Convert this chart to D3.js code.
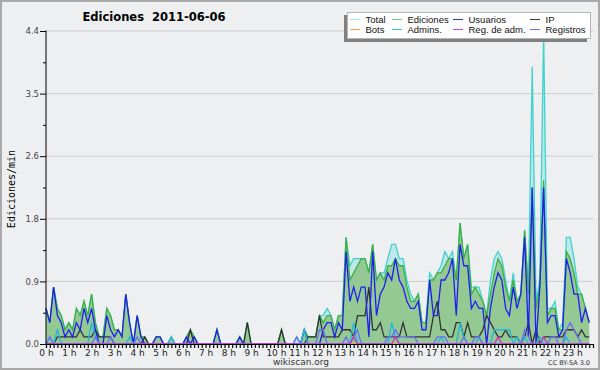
<!DOCTYPE html>
<html lang="es">
<head>
<meta charset="UTF-8">
<title>Ediciones 2011-06-06</title>
<script src="https://d3js.org/d3.v7.min.js"></script>
<style>
  body { margin: 0; background: #fff; }
  svg { display: block; }
</style>
</head>
<body>
<script>
// ediciones/min, one value per 10 minutes (12 values = 2 hours per row)
let total = [
  0.5,0.3,0.8,0.5,0.4,0.2,0.3,0.2,0.5,0.4,0.6,0.4,
  0.7,0.3,0.1,0.1,0.5,0.4,0.2,0.2,0.1,0.7,0.3,0,
  0.4,0.1,0.1,0,0,0.1,0.1,0,0,0.1,0,0,
  0,0.1,0.2,0.1,0,0,0,0,0,0.2,0,0,
  0,0,0,0.1,0,0.3,0,0,0,0,0,0,
  0,0,0.2,0,0,0,0.1,0,0.2,0.1,0.1,0.1,
  0.4,0.4,0.5,0.4,0.2,0.4,0.4,1.5,1.1,1.2,1.2,1.2,
  1.2,1.0,1.4,0.9,1.0,1.0,1.2,1.4,1.4,1.2,1.2,0.9,
  0.7,0.6,0.7,0.3,0.3,1.0,0.9,1.0,1.1,1.3,1.2,1.3,
  0.9,1.7,1.2,1.4,0.8,0.8,0.8,0.6,0.4,0.9,1.2,1.3,
  1.2,0.9,0.6,1.0,0.6,0.7,1.6,0.8,3.9,0.6,0.9,4.4,
  0.5,0.5,0.6,0.2,0.3,1.5,1.5,1.2,0.8,0.7,0.5,0.3
];
let ediciones = [
  0.5,0.3,0.8,0.5,0.4,0.2,0.3,0.2,0.5,0.4,0.6,0.4,
  0.7,0.3,0.1,0.1,0.5,0.4,0.2,0.2,0.1,0.7,0.3,0,
  0.4,0.1,0.1,0,0,0.1,0.1,0,0,0.1,0,0,
  0,0.1,0.2,0.1,0,0,0,0,0,0.2,0,0,
  0,0,0,0.1,0,0.3,0,0,0,0,0,0,
  0,0,0.2,0,0,0,0,0,0.2,0.1,0.1,0.1,
  0.4,0.3,0.4,0.4,0.2,0.4,0.4,1.5,0.9,1.0,1.1,1.2,
  1.2,1.0,1.4,0.9,1.0,0.9,1.1,1.1,1.2,1.1,1.1,0.8,
  0.6,0.6,0.7,0.3,0.3,0.9,0.9,1.0,1.0,1.1,1.2,1.2,
  0.9,1.7,1.2,1.4,0.7,0.8,0.7,0.6,0.4,0.7,1.0,1.2,
  1.1,0.8,0.6,0.9,0.6,0.7,1.6,0.7,2.2,0.5,0.8,2.3,
  0.4,0.5,0.5,0.2,0.2,1.3,1.2,1.0,0.7,0.7,0.5,0.3
];
let usuarios = [
  0.5,0.3,0.8,0.4,0.3,0.1,0.2,0.1,0.3,0.2,0.5,0.3,
  0.5,0.2,0,0,0.4,0.2,0.1,0.2,0.1,0.7,0.3,0,
  0.4,0.1,0,0,0,0.1,0.1,0,0,0,0,0,
  0,0.1,0,0.1,0,0,0,0,0,0.2,0,0,
  0,0,0,0.1,0,0,0,0,0,0,0,0,
  0,0,0,0,0,0,0,0,0.2,0,0,0,
  0,0.2,0.3,0.3,0.1,0.3,0.2,1.3,0.6,0.8,0.6,0.8,
  0.8,0.1,1.3,0.4,0.7,0.8,1.0,0.9,1.2,0.9,0.8,0.6,
  0.5,0.5,0.6,0.2,0.2,0.9,0.4,0.4,0.9,0.9,1.0,1.2,
  0.4,1.4,1.1,1.1,0.5,0.6,0.5,0.5,0,0.5,0.8,1.0,
  0.9,0.5,0.4,0.8,0.5,0.7,1.5,0.1,2.2,0,0.8,2.2,
  0.3,0.4,0.4,0.1,0.2,1.2,1.0,0.7,0.7,0.3,0.5,0.3
];
let ip = [
  0,0,0,0.1,0.1,0.1,0.1,0.1,0.1,0.2,0.1,0.1,
  0.1,0.2,0.1,0.1,0.1,0.1,0,0,0,0,0,0,
  0,0,0.1,0,0,0,0,0,0,0,0,0,
  0,0,0.2,0,0,0,0,0,0,0,0,0,
  0,0,0,0,0,0.3,0,0,0,0,0,0,
  0,0,0.2,0,0,0,0,0,0,0.1,0.1,0.1,
  0.4,0.1,0.1,0.1,0.1,0.1,0.2,0.2,0.2,0.1,0.4,0.4,
  0.4,0.8,0.2,0.2,0.3,0.1,0.1,0.1,0.1,0.1,0.3,0.1,
  0.1,0.1,0.1,0.1,0.1,0.1,0.4,0.6,0.2,0.2,0.1,0.1,
  0.3,0.3,0.1,0.3,0.1,0.1,0.1,0.2,0.4,0.3,0.2,0.1,
  0.1,0.2,0.1,0.1,0.1,0,0.1,0.3,0,0.2,0,0.1,
  0.1,0.1,0.1,0.1,0.1,0.2,0.2,0.2,0.1,0.2,0.1,0.1
];
let bots = [
  0,0,0,0,0,0,0,0,0,0,0,0,
  0,0,0,0,0,0,0,0,0,0,0,0,
  0,0,0,0,0,0,0,0,0,0,0,0,
  0,0,0,0,0,0,0,0,0,0,0,0,
  0,0,0,0,0,0,0,0,0,0,0,0,
  0,0,0,0,0,0,0,0,0,0,0,0,
  0,0,0,0,0,0,0,0,0,0,0,0,
  0,0,0,0,0,0,0,0,0,0,0,0,
  0,0,0,0,0,0,0,0,0,0,0,0,
  0,0,0,0,0,0,0,0,0,0,0,0,
  0,0,0,0,0,0,0,0,0,0,0,0,
  0,0,0,0,0,0,0,0,0,0,0,0
];
let admins = [
  0,0.1,0,0.2,0,0,0,0,0,0,0,0,
  0.3,0.1,0,0,0,0,0,0,0,0,0.1,0,
  0,0,0,0,0,0,0,0,0,0.1,0,0,
  0,0,0,0,0,0,0,0,0,0,0,0,
  0,0,0,0,0,0,0,0,0,0,0,0,
  0,0,0,0,0,0,0,0,0.2,0,0,0,
  0,0,0,0,0,0,0,0,0,0.3,0,0,
  0,0,0,0,0,0,0,0.3,0.1,0,0,0,
  0,0,0,0,0,0,0,0,0.1,0,0,0,
  0,0.3,0.1,0,0,0,0.1,0,0,0,0.2,0.2,
  0.2,0.2,0.2,0,0.1,0,0.1,0,0,0,0.1,0,
  0,0,0,0,0,0.1,0,0,0,0,0,0
];
let regAdm = [
  0,0,0,0,0,0,0,0,0,0,0,0,
  0,0,0,0,0,0,0,0,0,0,0,0,
  0,0,0,0,0,0,0,0,0,0,0,0,
  0,0,0,0,0,0,0,0,0,0,0,0,
  0,0,0,0,0,0,0,0,0,0,0,0,
  0,0,0,0,0,0,0,0,0,0,0,0,
  0,0,0,0,0,0,0,0,0,0.1,0,0,
  0,0,0,0,0,0,0,0,0.1,0,0,0,
  0,0,0,0,0,0,0,0,0,0,0,0,
  0,0,0,0,0,0,0,0,0,0,0,0.1,
  0,0,0,0,0,0,0,0,0,0,0,0.1,
  0,0,0,0,0,0,0,0,0,0,0,0
];
let registros = [
  0,0.1,0,0,0,0,0,0,0,0,0,0,
  0,0.1,0,0,0,0.1,0,0,0,0,0,0,
  0.1,0,0,0,0,0,0,0,0,0,0,0,
  0,0,0,0,0,0,0,0,0,0,0,0,
  0,0,0,0,0,0,0,0,0,0,0,0,
  0,0,0,0,0,0,0.1,0,0,0,0,0,
  0.2,0.2,0,0,0,0,0,0.1,0,0.1,0.2,0,
  0,0,0,0,0,0,0.1,0.1,0.2,0.1,0.1,0.1,
  0.1,0.1,0,0,0,0,0,0.1,0.1,0.1,0,0,
  0,0,0.1,0,0,0.1,0.1,0,0,0,0,0,
  0,0,0,0,0,0,0.2,0.1,0,0,0,0,
  0,0.1,0.1,0,0,0.2,0.3,0.2,0.1,0,0,0
];

let hourLabels = ["0 h","1 h","2 h","3 h","4 h","5 h","6 h","7 h","8 h","9 h","10 h","11 h",
  "12 h","13 h","14 h","15 h","16 h","17 h","18 h","19 h","20 h","21 h","22 h","23 h"];
let yTicks = [0, 0.88, 1.76, 2.64, 3.52, 4.4];
let yTickLabels = ["0.0", "0.9", "1.8", "2.6", "3.5", "4.4"];
let legendNames = ["Total", "Ediciones", "Usuarios", "IP", "Bots", "Admins.", "Reg. de adm.", "Registros"];
let legendColors = ["#a9e3e6", "#7fcf7f", "#3434e0", "#333333", "#ff9a35", "#35c8cf", "#c845d6", "#7474ee"];

let svgWidth = 600, svgHeight = 370;
let plotLeft = 46, plotRight = 593, plotTop = 31, plotBottom = 344;

let svg = d3.select("body").append("svg")
  .attr("width", svgWidth)
  .attr("height", svgHeight)
  .style("font-family", "'DejaVu Sans', sans-serif");

svg.append("rect")
  .attr("x", 1).attr("y", 1)
  .attr("width", svgWidth - 2).attr("height", svgHeight - 2)
  .attr("fill", "#eeeff1")
  .attr("stroke", "#a9a9a9")
  .attr("stroke-width", 2);

let x = d3.scaleLinear().domain([0, 24]).range([plotLeft, plotRight]);
let y = d3.scaleLinear().domain([0, 4.4]).range([plotBottom, plotTop]);

// grid
svg.append("g")
  .selectAll("line")
  .data(yTicks.slice(1))
  .join("line")
  .attr("x1", plotLeft).attr("x2", plotRight)
  .attr("y1", d => y(d)).attr("y2", d => y(d))
  .attr("stroke", "#cdcdd0")
  .attr("stroke-width", 1);

let px = (d, i) => x(i / 6);
let area = d3.area().x(px).y0(y(0)).y1(d => y(d));
let line = d3.line().x(px).y(d => y(d));

let plot = svg.append("g");

plot.append("path").datum(total)
  .attr("d", area).attr("fill", "#bfe7ea");
plot.append("path").datum(total)
  .attr("d", line).attr("fill", "none")
  .attr("stroke", "#3fd2cf").attr("stroke-width", 1.3);

plot.append("path").datum(ediciones)
  .attr("d", area).attr("fill", "#94c994");
plot.append("path").datum(ediciones)
  .attr("d", line).attr("fill", "none")
  .attr("stroke", "#3bb043").attr("stroke-width", 1.3);

let series = [
  [bots, "#ff9a35"],
  [ip, "#333333"],
  [usuarios, "#1e1ef0"],
  [admins, "#22b8da"],
  [registros, "#6d6dff"],
  [regAdm, "#cc33cc"]
];
series.forEach(function(s) {
  plot.append("path").datum(s[0])
    .attr("d", line).attr("fill", "none")
    .attr("stroke", s[1]).attr("stroke-width", 1.3);
});

// y axis
let yAxis = svg.append("g")
  .attr("transform", "translate(" + plotLeft + ",0)")
  .call(d3.axisLeft(y).tickValues(yTicks).tickSize(6).tickPadding(1)
    .tickFormat((d, i) => yTickLabels[i]));
svg.append("g")
  .attr("transform", "translate(" + plotLeft + ",0)")
  .call(d3.axisLeft(y).tickValues([0.44, 1.32, 2.2, 3.08, 3.96]).tickSize(3).tickFormat(""))
  .select(".domain").remove();
yAxis.select(".domain").attr("d", "M0," + (plotTop - 0.5) + "V" + plotBottom);
yAxis.selectAll("text").attr("font-size", 8.5).attr("fill", "#444").attr("font-family", "'DejaVu Sans', sans-serif");

// x axis
let xAxis = svg.append("g")
  .attr("transform", "translate(0," + plotBottom + ")")
  .call(d3.axisBottom(x).tickValues(d3.range(0, 145).map(i => i / 6)).tickSize(4).tickFormat(""));
xAxis.select(".domain").attr("d", "M" + plotLeft + ",0.5H" + plotRight);
xAxis.selectAll(".tick line").attr("stroke-width", 1.2);

svg.append("g")
  .selectAll("text")
  .data(hourLabels)
  .join("text")
  .attr("x", (d, i) => x(i) + (i >= 10 ? 2.5 : 0.5))
  .attr("y", 356)
  .attr("text-anchor", "middle")
  .attr("font-size", 9)
  .attr("fill", "#222")
  .text(d => d);

// title and labels
svg.append("text")
  .attr("x", 154).attr("y", 21)
  .attr("text-anchor", "middle")
  .attr("font-size", 11.5)
  .attr("font-weight", "bold")
  .style("white-space", "pre")
  .text("Ediciones  2011-06-06");

svg.append("text")
  .attr("transform", "translate(15,189) rotate(-90)")
  .attr("text-anchor", "middle")
  .attr("font-family", "'DejaVu Sans Mono', monospace")
  .attr("font-size", 10)
  .text("Ediciones/min");

svg.append("text")
  .attr("x", 301).attr("y", 365)
  .attr("text-anchor", "middle")
  .attr("font-size", 9)
  .attr("fill", "#333")
  .text("wikiscan.org");

svg.append("text")
  .attr("x", 590).attr("y", 365)
  .attr("text-anchor", "end")
  .attr("font-size", 6.5)
  .attr("fill", "#333")
  .text("CC BY-SA 3.0");

// legend
let lg = svg.append("g");
lg.append("rect")
  .attr("x", 344).attr("y", 15).attr("width", 243).attr("height", 27)
  .attr("fill", "#808080");
lg.append("rect")
  .attr("x", 347.5).attr("y", 12.5).attr("width", 243).attr("height", 26)
  .attr("fill", "#ffffff").attr("stroke", "#b5b5b5");

let colX = [350, 392, 453, 530];
let rowY = [19, 29];
legendNames.forEach(function(name, i) {
  let cx = colX[i % 4], cy = rowY[Math.floor(i / 4)];
  lg.append("line")
    .attr("x1", cx).attr("x2", cx + 10)
    .attr("y1", cy + 0.5).attr("y2", cy + 0.5)
    .attr("stroke", legendColors[i]).attr("stroke-width", 1);
  lg.append("text")
    .attr("x", cx + 15.5).attr("y", cy + 4)
    .attr("font-family", "'Liberation Sans', Arial, sans-serif")
    .attr("font-size", 9.5)
    .attr("fill", "#111")
    .text(name);
});
</script>
</body>
</html>
